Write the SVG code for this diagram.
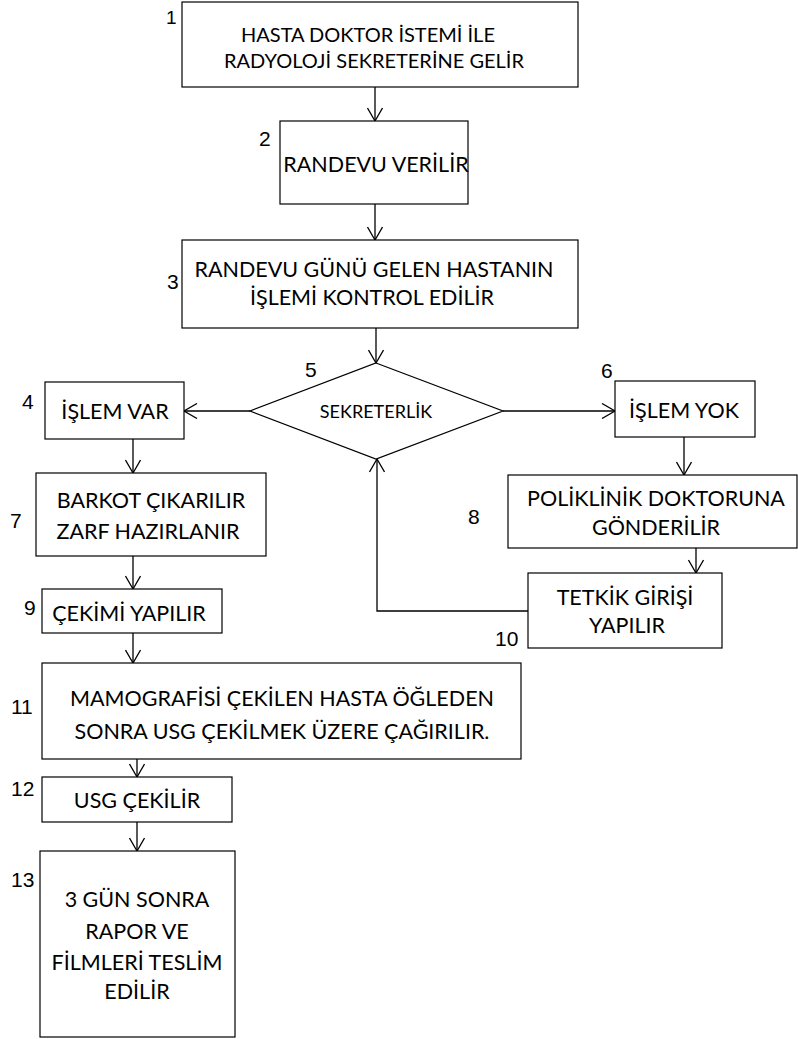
<svg xmlns="http://www.w3.org/2000/svg" width="798" height="1039" viewBox="0 0 798 1039">
<style>
.box{fill:#fff;stroke:#000;stroke-width:1.2}
.t{font-family:Lato,"Liberation Sans",sans-serif;font-size:21.5px;fill:#000;text-anchor:middle}
.t1{font-family:Lato,"Liberation Sans",sans-serif;font-size:20px;fill:#000;text-anchor:middle}
.ts{font-family:Lato,"Liberation Sans",sans-serif;font-size:18px;fill:#000;text-anchor:middle}
.n{font-family:"Liberation Sans",Arial,sans-serif;font-size:21px;fill:#000}
.c{fill:none;stroke:#000;stroke-width:1.3}
</style>
<defs>
<marker id="ah" markerUnits="userSpaceOnUse" viewBox="0 0 16 16" refX="14" refY="8" markerWidth="16" markerHeight="16" orient="auto">
<path d="M1,0.5 L14,8 L1,15.5" fill="none" stroke="#000" stroke-width="1.3"/>
</marker>
</defs>
<rect width="798" height="1039" fill="#fff"/>
<g id="connectors">
<line class="c" x1="375" y1="87" x2="375" y2="121" marker-end="url(#ah)"/>
<line class="c" x1="375" y1="204" x2="375" y2="240" marker-end="url(#ah)"/>
<line class="c" x1="376" y1="328" x2="376" y2="363" marker-end="url(#ah)"/>
<line class="c" x1="250" y1="411" x2="184" y2="411" marker-end="url(#ah)"/>
<line class="c" x1="503" y1="411" x2="615" y2="411" marker-end="url(#ah)"/>
<line class="c" x1="133" y1="439" x2="133" y2="473" marker-end="url(#ah)"/>
<line class="c" x1="684" y1="437" x2="684" y2="475" marker-end="url(#ah)"/>
<line class="c" x1="696" y1="548" x2="696" y2="573" marker-end="url(#ah)"/>
<polyline class="c" points="528,611 377,611 377,459" marker-end="url(#ah)"/>
<line class="c" x1="133" y1="556" x2="133" y2="589" marker-end="url(#ah)"/>
<line class="c" x1="133" y1="633" x2="133" y2="663" marker-end="url(#ah)"/>
<line class="c" x1="137" y1="759" x2="137" y2="777" marker-end="url(#ah)"/>
<line class="c" x1="137" y1="822" x2="137" y2="851" marker-end="url(#ah)"/>
</g>
<g id="n1">
<rect class="box" x="182" y="2" width="396" height="85"/>
<text class="t1" x="368" y="42">HASTA DOKTOR İSTEMİ İLE</text>
<text class="t1" x="374" y="68">RADYOLOJİ SEKRETERİNE GELİR</text>
<text class="n" x="166" y="24" style="font-size:19px">1</text>
</g>
<g id="n2">
<rect class="box" x="280" y="121" width="188" height="83"/>
<text class="t" x="376" y="172">RANDEVU VERİLİR</text>
<text class="n" x="259" y="146">2</text>
</g>
<g id="n3">
<rect class="box" x="182" y="240" width="396" height="88"/>
<text class="t" x="374" y="277">RANDEVU GÜNÜ GELEN HASTANIN</text>
<text class="t" x="372" y="305">İŞLEMİ KONTROL EDİLİR</text>
<text class="n" x="167" y="289">3</text>
</g>
<g id="n5">
<polygon class="box" points="376,363 503,411 376,459 250,411"/>
<text class="ts" x="376" y="418">SEKRETERLİK</text>
<text class="n" x="305" y="377">5</text>
</g>
<g id="n4">
<rect class="box" x="45" y="382" width="139" height="57"/>
<text class="t" x="115" y="419">İŞLEM VAR</text>
<text class="n" x="22" y="409">4</text>
</g>
<g id="n6">
<rect class="box" x="615" y="381" width="140" height="56"/>
<text class="t" x="684" y="418">İŞLEM YOK</text>
<text class="n" x="601" y="378">6</text>
</g>
<g id="n7">
<rect class="box" x="36" y="473" width="230" height="83"/>
<text class="t" x="151" y="508">BARKOT ÇIKARILIR</text>
<text class="t" x="148" y="539">ZARF HAZIRLANIR</text>
<text class="n" x="10" y="528">7</text>
</g>
<g id="n8">
<rect class="box" x="508" y="475" width="289" height="73"/>
<text class="t" x="656" y="506">POLİKLİNİK DOKTORUNA</text>
<text class="t" x="656" y="535">GÖNDERİLİR</text>
<text class="n" x="468" y="524">8</text>
</g>
<g id="n9">
<rect class="box" x="42" y="589" width="180" height="44"/>
<text class="t" x="129" y="621">ÇEKİMİ YAPILIR</text>
<text class="n" x="24" y="615">9</text>
</g>
<g id="n10">
<rect class="box" x="528" y="573" width="194" height="75"/>
<text class="t" x="625" y="605">TETKİK GİRİŞİ</text>
<text class="t" x="627" y="633">YAPILIR</text>
<text class="n" x="495" y="646">10</text>
</g>
<g id="n11">
<rect class="box" x="42" y="663" width="479" height="96"/>
<text class="t" x="282" y="706">MAMOGRAFİSİ ÇEKİLEN HASTA ÖĞLEDEN</text>
<text class="t" x="282" y="739">SONRA USG ÇEKİLMEK ÜZERE ÇAĞIRILIR.</text>
<text class="n" x="11" y="714">11</text>
</g>
<g id="n12">
<rect class="box" x="42" y="777" width="190" height="45"/>
<text class="t" x="137" y="808">USG ÇEKİLİR</text>
<text class="n" x="11" y="796">12</text>
</g>
<g id="n13">
<rect class="box" x="40" y="851" width="195" height="186"/>
<text class="t" x="137" y="907">3 GÜN SONRA</text>
<text class="t" x="137" y="939">RAPOR VE</text>
<text class="t" x="137" y="970">FİLMLERİ TESLİM</text>
<text class="t" x="137" y="999">EDİLİR</text>
<text class="n" x="11" y="887">13</text>
</g>
</svg>
